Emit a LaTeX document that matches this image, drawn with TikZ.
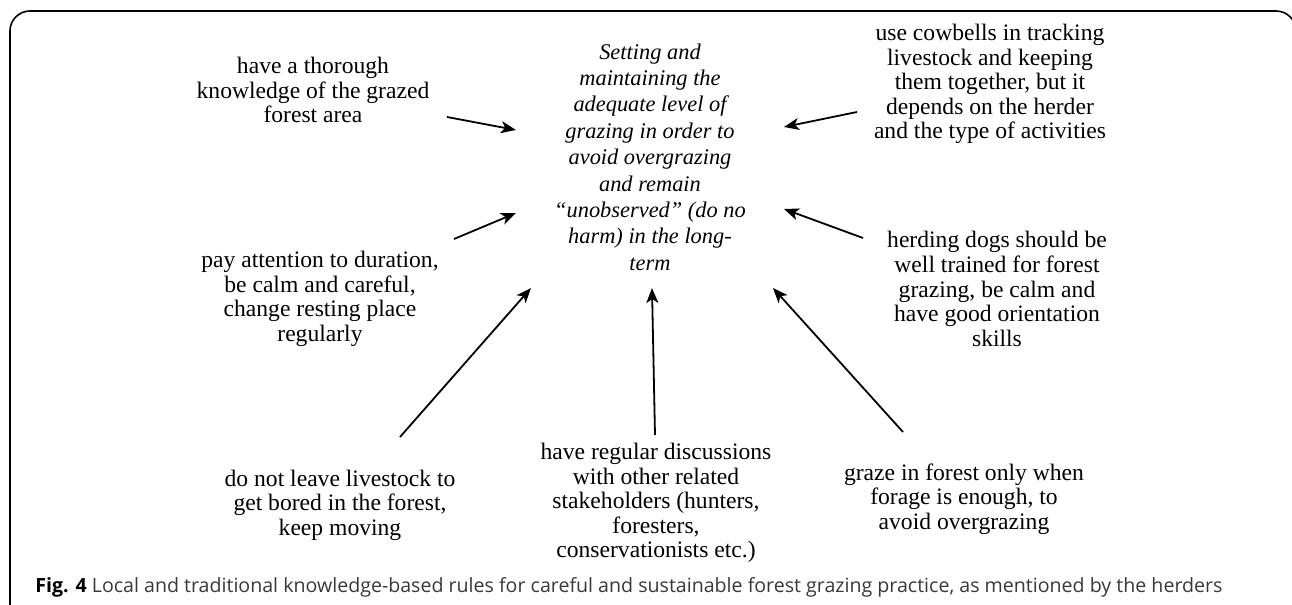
\documentclass[tikz,border=0pt]{standalone}
\usepackage{fontspec}
\setmainfont{Liberation Serif}
\newfontfamily\capfont{Open Sans}
\usetikzlibrary{arrows.meta}

\tikzset{
	rule/.style={align=center, font=\fontsize{11.8}{12.3}\selectfont, inner sep=0pt},
	goal/.style={align=center, font=\fontsize{11.2}{13.2}\selectfont\itshape, inner sep=0pt},
	arr/.style={-{Stealth[length=7.5pt,width=6pt,inset=2pt]}, line width=0.9pt}
}

\begin{document}
\begin{tikzpicture}[x=0.5pt, y=-0.5pt]
			\useasboundingbox (0,0) rectangle (1292,605);

			% Frame (cut at the right and bottom)
			\draw[line width=0.8pt, rounded corners=10] (10,620) -- (10,11) -- (1296,11) -- (1296,620);

			% Central goal
			\node[goal] (goal) at (650,157) {Setting and\\ maintaining the\\ adequate level of\\ grazing in order to\\ avoid overgrazing\\ and remain\\ ``unobserved'' (do no\\ harm) in the long-\\ term};

			% Rules around it
			\node[rule] (know) at (313,90) {have a thorough\\ knowledge of the grazed\\ forest area};
			\node[rule] (bells) at (990,84) {use cowbells in tracking\\ livestock and keeping\\ them together, but it\\ depends on the herder\\ and the type of activities};
			\node[rule] (rest) at (320,299) {pay attention to duration,\\ be calm and careful,\\ change resting place\\ regularly};
			\node[rule] (dogs) at (997,289) {herding dogs should be\\ well trained for forest\\ grazing, be calm and\\ have good orientation\\ skills};
			\node[rule] (moving) at (340,505) {do not leave livestock to\\ get bored in the forest,\\ keep moving};
			\node[rule] (talk) at (656,503) {have regular discussions\\ with other related\\ stakeholders (hunters,\\ foresters,\\ conservationists etc.)};
			\node[rule] (forage) at (964,499) {graze in forest only when\\ forage is enough, to\\ avoid overgrazing};

			% Arrow ends
			\coordinate (know-s) at (447,117);   \coordinate (know-e) at (516,130);
			\coordinate (rest-s) at (454,239);   \coordinate (rest-e) at (516,213);
			\coordinate (bells-s) at (857,112);  \coordinate (bells-e) at (784,127);
			\coordinate (dogs-s) at (863,238);   \coordinate (dogs-e) at (784,209);
			\coordinate (moving-s) at (400,437); \coordinate (moving-e) at (531,288);
			\coordinate (talk-s) at (655,435);   \coordinate (talk-e) at (652,288);
			\coordinate (forage-s) at (903,432); \coordinate (forage-e) at (773,288);

			% Arrows
			\draw[arr] (know-s) -- (know-e);
			\draw[arr] (rest-s) -- (rest-e);
			\draw[arr] (bells-s) -- (bells-e);
			\draw[arr] (dogs-s) -- (dogs-e);
			\draw[arr] (moving-s) -- (moving-e);
			\draw[arr] (talk-s) -- (talk-e);
			\draw[arr] (forage-s) -- (forage-e);

			% Caption
			\node[anchor=west, inner sep=0pt, font=\capfont\fontsize{9.8}{11}\selectfont, text=black!78] (caption) at (35,587) {\textcolor{black}{\textbf{Fig. 4}} Local and traditional knowledge-based rules for careful and sustainable forest grazing practice, as mentioned by the herders};
		\end{tikzpicture}
\end{document}
